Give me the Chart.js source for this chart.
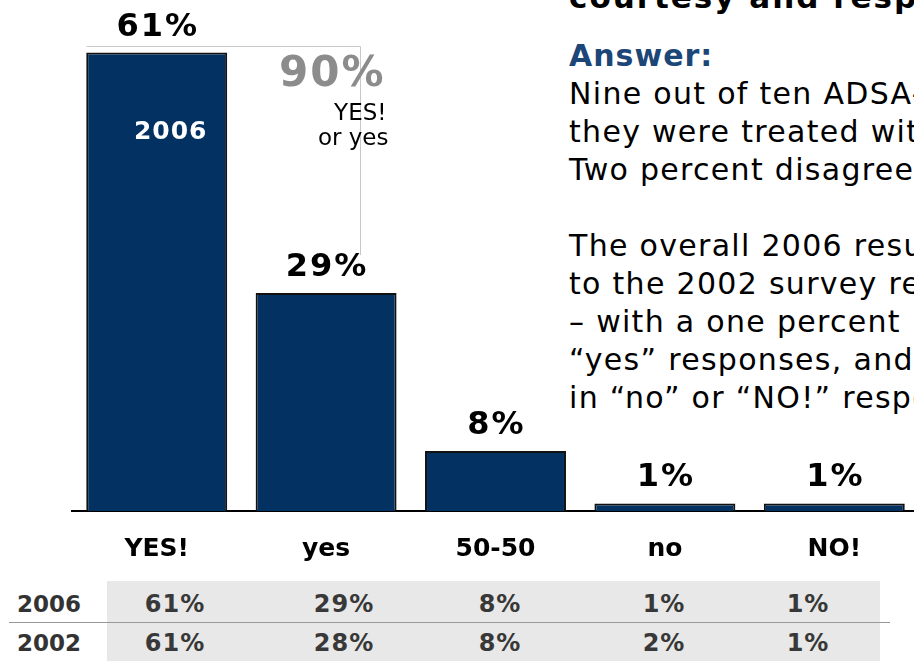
<!DOCTYPE html>
<html>
<head>
<meta charset="utf-8">
<script src="https://cdn.jsdelivr.net/npm/chart.js@4.4.0/dist/chart.umd.min.js"></script>
<style>
  html, body { margin: 0; padding: 0; background: #fff; overflow: hidden; width: 914px; height: 661px; }
  #wrap { position: absolute; left: 0; top: 0; width: 920px; height: 593px; }
  .title { position: absolute; left: 569px; top: -22px; white-space: nowrap; font: bold 31px/38px "DejaVu Sans"; letter-spacing: 2px; color: #000; }
  .answer { position: absolute; left: 569px; top: 37px; white-space: nowrap; font: 30px/38px "DejaVu Sans"; letter-spacing: 1.3px; color: #000; }
  .answer b { color: #1b4677; letter-spacing: 1px; }
  .band { position: absolute; left: 107px; top: 581px; width: 773px; height: 80px; background: #e8e8e8; }
  .rule { position: absolute; left: 9px; top: 622px; width: 881px; height: 1px; background: #999; }
  .cell { position: absolute; font: bold 24px "DejaVu Sans"; letter-spacing: 1px; color: #383838; white-space: nowrap; transform: translateX(-50%); }
  .rowname { position: absolute; left: 17px; font: bold 23px "DejaVu Sans"; color: #333; }
</style>
</head>
<body>
<div class="title">courtesy and respect?</div>
<div class="answer">
  <b>Answer:</b><br>
  Nine out of ten ADSA-served clients said<br>
  they were treated with courtesy and respect.<br>
  Two percent disagreed.<br>
  <br>
  The overall 2006 results are nearly identical<br>
  to the 2002 survey results for this question<br>
  – with a one percent increase in<br>
  “yes” responses, and a one percent decrease<br>
  in “no” or “NO!” responses.
</div>
<div class="band"></div>
<div class="rule"></div>
<div id="table"></div>
<div id="wrap"><canvas id="myChart"></canvas></div>
<script>
// Respuestas y porcentajes
const answers = ['YES!', 'yes', '50-50', 'no', 'NO!'];
const values2006 = [61, 29, 8, 1, 1];
const values2002 = [61, 28, 8, 2, 1];
const years = ['2006', '2002'];

// Tabla de comparacion debajo de la grafica
const colX = [175, 344, 500, 664, 808];
const rowTop = [591, 630];
const table = document.getElementById('table');
[values2006, values2002].forEach((row, r) => {
    table.innerHTML += `<div class="rowname" style="top:${rowTop[r]}px">${years[r]}</div>`;
    table.innerHTML += row.map((v, i) =>
        `<div class="cell" style="left:${colX[i]}px; top:${rowTop[r] - 1}px">${v}%</div>`).join('');
});

// Etiquetas sobre las barras, "2006" y la llave de 90%
const barLabels = {
    id: 'barLabels',
    afterDatasetsDraw(chart) {
        const ctx = chart.ctx;
        const bars = chart.getDatasetMeta(0).data;
        ctx.save();
        ctx.textAlign = 'center';
        ctx.fillStyle = '#000';
        ctx.font = 'bold 32px "DejaVu Sans"';
        ctx.letterSpacing = '2px';
        bars.forEach((bar, i) => ctx.fillText(values2006[i] + '%', bar.x + 1, bar.y - 17));

        const b0 = bars[0], b1 = bars[1];
        ctx.fillStyle = '#fff';
        ctx.font = 'bold 25px "DejaVu Sans"';
        ctx.letterSpacing = '1px';
        ctx.fillText(years[0], b0.x + 14, b0.y + 86);

        // llave gris
        const left = Math.round(b0.x - b0.width / 2) + 0.5;
        const top = Math.round(b0.y - 7) + 0.5;
        const right = Math.round(b1.x + 34) + 0.5;
        const bottom = b1.y - 38;
        ctx.strokeStyle = '#c8c8c8';
        ctx.lineWidth = 1;
        ctx.beginPath();
        ctx.moveTo(left, top);
        ctx.lineTo(right, top);
        ctx.lineTo(right, bottom);
        ctx.stroke();

        ctx.textAlign = 'right';
        ctx.fillStyle = '#8c8c8c';
        ctx.font = 'bold 42px "DejaVu Sans"';
        ctx.letterSpacing = '2px';
        ctx.fillText((values2006[0] + values2006[1]) + '%', right + 25, top + 39);
        ctx.fillStyle = '#000';
        ctx.font = '23px "DejaVu Sans"';
        ctx.letterSpacing = '0px';
        ctx.fillText(answers[0], right + 26, top + 73);
        ctx.fillText('or ' + answers[1], right + 28, top + 98);
        ctx.restore();
    }
};

const ctx = document.getElementById('myChart').getContext('2d');
const myChart = new Chart(ctx, {
    type: 'bar',
    data: {
        labels: answers,
        datasets: [{
            label: '2006',
            data: values2006,
            backgroundColor: '#033161',
            borderColor: '#111',
            borderWidth: 2,
            borderSkipped: 'bottom',
            categoryPercentage: 1,
            barPercentage: 0.832
        }]
    },
    options: {
        responsive: true,
        maintainAspectRatio: false,
        animation: false,
        layout: { padding: { left: 72, right: 1, top: 0, bottom: 6 } },
        plugins: { legend: { display: false }, tooltip: { enabled: false } },
        scales: {
            x: {
                grid: { display: false, drawTicks: false },
                border: { display: true, color: '#000', width: 2 },
                ticks: {
                    color: '#000',
                    padding: 23,
                    font: { family: 'DejaVu Sans', size: 25, weight: 'bold' }
                }
            },
            y: { display: false, min: 0, max: 68 }
        }
    },
    plugins: [barLabels]
});
</script>
</body>
</html>
